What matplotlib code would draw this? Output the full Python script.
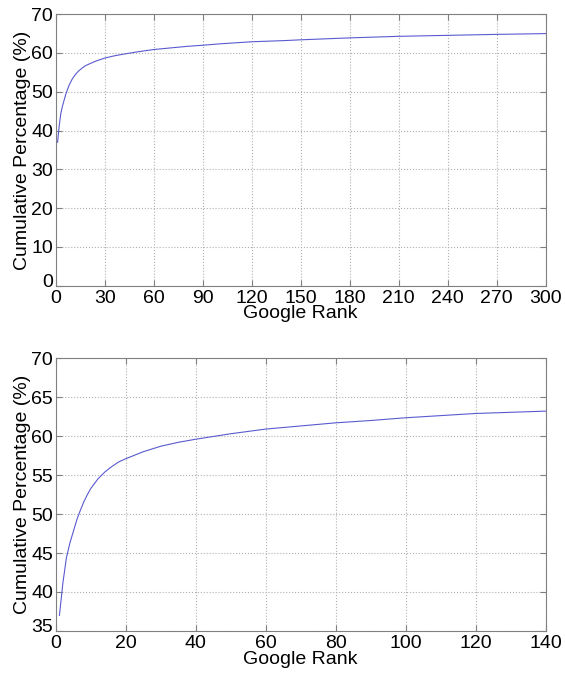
import matplotlib.pyplot as plt
import matplotlib.transforms as mtransforms

# cumulative percentage
rank = [1, 2, 3, 4, 5, 6, 7, 8, 9, 10, 12, 14, 16, 18, 20, 25, 30, 35, 40,
        50, 60, 70, 80, 90, 100, 120, 140, 150, 180, 210, 240, 270, 300]
cum_pct = [37.0, 41.2, 44.4, 46.3, 47.8, 49.3, 50.5, 51.6, 52.5, 53.3, 54.5,
           55.4, 56.1, 56.7, 57.1, 58.0, 58.7, 59.2, 59.6,
           60.3, 60.9, 61.3, 61.7, 62.0, 62.35, 62.9, 63.2, 63.4, 63.9, 64.3,
           64.55, 64.8, 65.0]

top_xticks = list(range(0, 301, 30))
top_yticks = list(range(0, 71, 10))
bot_xticks = list(range(0, 141, 20))
bot_yticks = list(range(35, 71, 5))

plt.rcParams['font.family'] = ['Liberation Sans', 'DejaVu Sans']
plt.rcParams['font.size'] = 14

fig = plt.figure(figsize=(5.65, 6.77), dpi=100)
ax1 = fig.add_axes([0.099, 0.578, 0.8665, 0.401])
ax2 = fig.add_axes([0.099, 0.068, 0.8665, 0.403])

for ax, xt, yt in [(ax1, top_xticks, top_yticks), (ax2, bot_xticks, bot_yticks)]:
    ax.plot(rank, cum_pct, color='#5a5ad0', linewidth=0.8)
    ax.set_xlim(xt[0], xt[-1])
    ax.set_ylim(yt[0], yt[-1])
    ax.set_xticks(xt)
    ax.set_yticks(yt)
    ax.grid(True, linestyle=':', color='#b0b0b0', linewidth=0.8)
    ax.tick_params(direction='in', length=4, width=0.8, color='#808080',
                   top=True, right=True)
    ax.tick_params(axis='x', pad=3)
    ax.tick_params(axis='y', pad=2)
    for s in ax.spines.values():
        s.set_color('#808080')
        s.set_linewidth(0.8)
    ax.set_xlabel('Google Rank', labelpad=-1)
    ax.set_ylabel('Cumulative Percentage (%)', labelpad=0)

fig.canvas.draw()
# nudge the lowest y label up a little so it clears the x "0"
for ax in (ax1, ax2):
    lab = ax.get_yticklabels()[0]
    lab.set_transform(lab.get_transform() +
                      mtransforms.ScaledTranslation(0, 4 / 72, fig.dpi_scale_trans))

plt.savefig('out.png', dpi=100)
